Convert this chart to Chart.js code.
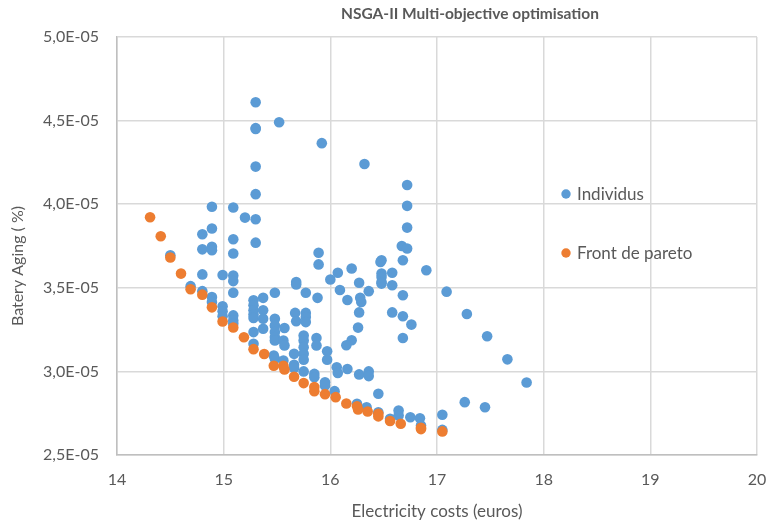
<!DOCTYPE html>
<html>
<head>
<meta charset="utf-8">
<script src="https://cdn.jsdelivr.net/npm/chart.js@4"></script>
<style>
  html, body { margin: 0; padding: 0; background: #fff; }
  #wrap { width: 768px; height: 525px; }
</style>
</head>
<body>
<div id="wrap"><canvas id="chart"></canvas></div>
<script>
const title = "NSGA-II Multi-objective optimisation";
const xTitle = "Electricity costs (euros)";
const yTitle = "Batery Aging ( %)";
const seriesNames = ["Individus", "Front de pareto"];

const xTicks = [14, 15, 16, 17, 18, 19, 20];
const yTicks = ["2,5E-05", "3,0E-05", "3,5E-05", "4,0E-05", "4,5E-05", "5,0E-05"];

// Individus (all population)
const indivX = [
  15.30, 15.52, 15.30, 15.30, 15.92, 15.30, 16.32, 16.72, 15.30, 14.89,
  15.09, 16.72, 15.20, 15.30, 14.89, 16.72, 14.80, 15.09, 15.30, 16.67,
  16.72, 14.80, 14.89, 14.89, 15.09, 15.89, 14.50, 16.48, 16.47, 16.68,
  15.89, 16.90, 16.20, 16.07, 16.58, 16.48, 16.48, 16.00, 15.68, 15.68,
  16.48, 16.48, 16.27, 16.58, 14.80, 14.99, 15.09, 15.09, 15.09, 14.69,
  14.80, 14.89, 14.89, 17.09, 16.36, 16.09, 15.77, 15.88, 16.16, 16.28,
  16.29, 16.68, 15.37, 15.48, 15.28, 15.28, 15.28, 15.28, 15.28, 14.99,
  14.99, 14.99, 15.09, 15.09, 15.09, 15.37, 15.37, 15.37, 15.48, 15.48,
  15.48, 15.48, 15.48, 15.57, 15.56, 15.57, 15.28, 15.28, 15.67, 15.68,
  15.77, 15.77, 15.77, 16.27, 16.58, 16.68, 16.76, 17.28, 16.26, 16.68,
  16.20, 16.15, 17.47, 15.87, 15.87, 15.75, 15.75, 15.75, 15.75, 15.75,
  15.97, 15.97, 15.47, 15.48, 15.56, 15.66, 15.66, 15.66, 17.66, 16.06,
  16.07, 16.16, 16.27, 16.36, 16.36, 15.75, 15.85, 15.85, 15.95, 15.95,
  17.84, 16.45, 16.04, 17.26, 17.45, 17.05, 16.64, 16.64, 16.75, 16.84,
  17.05, 16.85, 16.25, 16.34, 16.45, 16.56
];
const indivY = [
  4.61e-5, 4.49e-5, 4.455e-5, 4.45e-5, 4.365e-5, 4.225e-5, 4.24e-5, 4.115e-5, 4.06e-5, 3.985e-5,
  3.98e-5, 3.99e-5, 3.92e-5, 3.91e-5, 3.855e-5, 3.86e-5, 3.82e-5, 3.79e-5, 3.77e-5, 3.75e-5,
  3.735e-5, 3.73e-5, 3.745e-5, 3.725e-5, 3.705e-5, 3.71e-5, 3.695e-5, 3.665e-5, 3.655e-5, 3.665e-5,
  3.64e-5, 3.605e-5, 3.615e-5, 3.59e-5, 3.59e-5, 3.585e-5, 3.565e-5, 3.55e-5, 3.535e-5, 3.52e-5,
  3.535e-5, 3.525e-5, 3.53e-5, 3.515e-5, 3.58e-5, 3.577e-5, 3.573e-5, 3.54e-5, 3.47e-5, 3.51e-5,
  3.48e-5, 3.445e-5, 3.415e-5, 3.477e-5, 3.48e-5, 3.487e-5, 3.47e-5, 3.44e-5, 3.427e-5, 3.44e-5,
  3.415e-5, 3.455e-5, 3.44e-5, 3.47e-5, 3.425e-5, 3.395e-5, 3.365e-5, 3.34e-5, 3.32e-5, 3.39e-5,
  3.36e-5, 3.33e-5, 3.335e-5, 3.305e-5, 3.285e-5, 3.365e-5, 3.315e-5, 3.255e-5, 3.315e-5, 3.275e-5,
  3.235e-5, 3.205e-5, 3.185e-5, 3.26e-5, 3.185e-5, 3.155e-5, 3.235e-5, 3.165e-5, 3.35e-5, 3.30e-5,
  3.35e-5, 3.325e-5, 3.295e-5, 3.353e-5, 3.353e-5, 3.33e-5, 3.28e-5, 3.343e-5, 3.262e-5, 3.20e-5,
  3.186e-5, 3.156e-5, 3.21e-5, 3.20e-5, 3.155e-5, 3.215e-5, 3.185e-5, 3.145e-5, 3.105e-5, 3.07e-5,
  3.12e-5, 3.07e-5, 3.095e-5, 3.075e-5, 3.065e-5, 3.105e-5, 3.04e-5, 3.02e-5, 3.072e-5, 3.025e-5,
  2.99e-5, 3.014e-5, 2.982e-5, 3.00e-5, 2.972e-5, 3.00e-5, 2.985e-5, 2.965e-5, 2.935e-5, 2.915e-5,
  2.934e-5, 2.866e-5, 2.882e-5, 2.816e-5, 2.786e-5, 2.741e-5, 2.766e-5, 2.736e-5, 2.726e-5, 2.72e-5,
  2.65e-5, 2.677e-5, 2.806e-5, 2.786e-5, 2.756e-5, 2.717e-5
];

// Front de pareto
const paretoX = [
  14.31, 14.41, 14.50, 14.60, 14.69, 14.80, 14.89, 14.99, 15.09, 15.19,
  15.28, 15.38, 15.47, 15.56, 15.57, 15.66, 15.75, 15.85, 15.85, 15.95,
  16.05, 16.15, 16.25, 16.26, 16.35, 16.45, 16.45, 16.56, 16.66, 16.85,
  16.85, 17.05
];
const paretoY = [
  3.922e-5, 3.808e-5, 3.681e-5, 3.585e-5, 3.491e-5, 3.459e-5, 3.383e-5, 3.298e-5, 3.263e-5, 3.204e-5,
  3.133e-5, 3.104e-5, 3.034e-5, 3.034e-5, 3.012e-5, 2.968e-5, 2.93e-5, 2.906e-5, 2.882e-5, 2.864e-5,
  2.846e-5, 2.808e-5, 2.792e-5, 2.772e-5, 2.76e-5, 2.747e-5, 2.731e-5, 2.703e-5, 2.687e-5, 2.663e-5,
  2.655e-5, 2.641e-5
];

const blue = "#5b9bd5";
const orange = "#ed7d31";
const textColor = "#595959";
const font = "Lato, 'Open Sans', sans-serif";

const toPoints = (xs, ys) => xs.map((x, i) => ({ x: x, y: ys[i] }));

// title, y axis title and the legend that sits inside the plot
const overlay = {
  id: "overlay",
  afterDraw(chart) {
    const ctx = chart.ctx;
    ctx.save();
    ctx.fillStyle = textColor;
    ctx.font = "bold 15.5px " + font;
    ctx.textAlign = "center";
    ctx.textBaseline = "middle";
    ctx.fillText(title, 470, 14);

    ctx.save();
    ctx.translate(18, 266);
    ctx.rotate(-Math.PI / 2);
    ctx.font = "16px " + font;
    ctx.fillText(yTitle, 0, 0);
    ctx.restore();

    ctx.font = "17px " + font;
    ctx.textAlign = "left";
    const rows = [194, 253];
    chart.data.datasets.forEach((ds, i) => {
      ctx.fillStyle = ds.backgroundColor;
      ctx.beginPath();
      ctx.arc(566, rows[i], 4.7, 0, Math.PI * 2);
      ctx.fill();
      ctx.fillStyle = textColor;
      ctx.fillText(ds.label, 577, rows[i] + 1);
    });
    ctx.restore();
  }
};

new Chart(document.getElementById("chart"), {
  type: "scatter",
  data: {
    datasets: [
      {
        label: seriesNames[0],
        data: toPoints(indivX, indivY),
        backgroundColor: blue,
        borderColor: blue,
        pointRadius: 5.3,
        borderWidth: 0,
        order: 2
      },
      {
        label: seriesNames[1],
        data: toPoints(paretoX, paretoY),
        backgroundColor: orange,
        borderColor: orange,
        pointRadius: 5.3,
        borderWidth: 0,
        order: 1
      }
    ]
  },
  options: {
    responsive: true,
    maintainAspectRatio: false,
    animation: false,
    layout: { padding: { top: 37, right: 11, left: 0, bottom: 0 } },
    plugins: {
      legend: { display: false },
      title: { display: false },
      tooltip: { enabled: false }
    },
    scales: {
      x: {
        type: "linear",
        min: xTicks[0],
        max: xTicks[xTicks.length - 1],
        afterBuildTicks: (s) => { s.ticks = xTicks.map(v => ({ value: v })); },
        afterFit: (s) => { s.height = 70; s.paddingLeft = 0; s.paddingRight = 0; },
        grid: { color: "#d9d9d9", lineWidth: 1.5, drawTicks: false },
        border: { color: "#bfbfbf", width: 1.5 },
        ticks: { color: textColor, font: { family: font, size: 16 }, padding: 15 },
        title: {
          display: true, text: xTitle, color: textColor,
          font: { family: font, size: 17 }, padding: { top: 4, bottom: 3 }
        }
      },
      y: {
        type: "linear",
        min: 2.5e-5,
        max: 5.0e-5,
        afterBuildTicks: (s) => { s.ticks = yTicks.map((t, i) => ({ value: 2.5e-5 + i * 0.5e-5 })); },
        afterFit: (s) => { s.width = 117; s.paddingTop = 0; s.paddingBottom = 0; },
        grid: { color: "#d9d9d9", lineWidth: 1.5, drawTicks: false },
        border: { color: "#bfbfbf", width: 1.5 },
        ticks: {
          color: textColor, font: { family: font, size: 16 }, padding: 18,
          callback: (v, i) => yTicks[i]
        }
      }
    }
  },
  plugins: [overlay]
});
</script>
</body>
</html>
